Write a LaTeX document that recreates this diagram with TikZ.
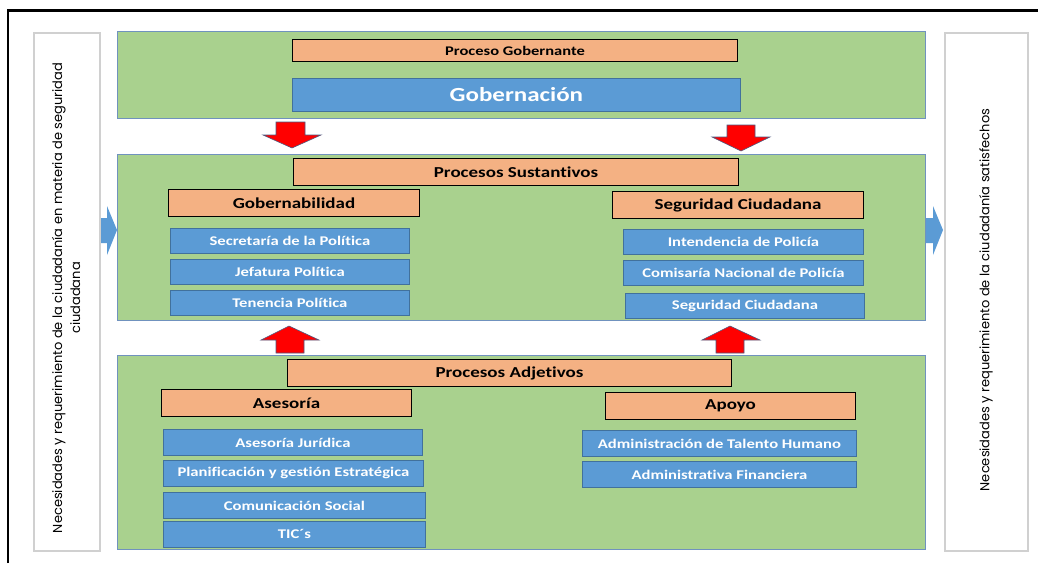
\documentclass[tikz,border=0pt]{standalone}
\usepackage{fontspec}
\setmainfont{Carlito}[FakeStretch=1.25, Ligatures=NoCommon]
\newfontfamily\sidefont{Poppins}
\definecolor{grpgreen}{HTML}{A9D18E}
\definecolor{grpline}{HTML}{7092BE}
\definecolor{hdrorange}{HTML}{F4B183}
\definecolor{itemblue}{HTML}{5B9BD5}
\definecolor{itemline}{HTML}{41719C}
\definecolor{sidegray}{HTML}{D0D0D0}
\definecolor{arrowline}{HTML}{4A5A80}
\begin{document}
\begin{tikzpicture}[x=1pt,y=-1pt,
  grp/.style={draw=grpline, fill=grpgreen, line width=0.8pt, anchor=north west, inner sep=0pt},
  hdr/.style={draw=black, fill=hdrorange, line width=1pt, anchor=north west, inner sep=0pt,
    font=\bfseries\fontsize{15.2}{17}\selectfont, text=black},
  item/.style={draw=itemline, fill=itemblue, line width=0.8pt, anchor=north west, inner sep=0pt,
    font=\bfseries\fontsize{13.3}{15}\selectfont, text=white},
  side/.style={draw=sidegray, line width=1.8pt, fill=white, anchor=north west, inner sep=0pt},
  sidetext/.style={rotate=90, align=center, font=\sidefont\fontsize{13}{18}\selectfont, text=black},
  redarr/.style={fill=red, draw=arrowline, line width=0.6pt, line join=miter},
  bluearr/.style={fill=itemblue, draw=none}
]
\useasboundingbox (0,0) rectangle (1038,563);
\fill[white] (0,0) rectangle (1038,563);
% outer frame (top and left)
\draw[line width=2.5pt] (8,563) -- (8,10.5) -- (1038,10.5);

% side boxes
\node[side, minimum width=66pt, minimum height=518pt] (leftside) at (33,32) {};
\node[side, minimum width=83pt, minimum height=518pt] (rightside) at (944,32) {};
\node[sidetext] (lefttext) at (66,298) {Necesidades y requerimiento de la ciudadanía en materia de seguridad\\ciudadana};
\node[sidetext] (righttext) at (986,300) {Necesidades y requerimiento de la ciudadanía satisfechos};

% group panels
\node[grp, minimum width=808pt, minimum height=87pt] (gtop) at (117,31) {};
\node[grp, minimum width=808pt, minimum height=166pt] (gmid) at (117,154) {};
\node[grp, minimum width=808pt, minimum height=194pt] (gbot) at (117,355) {};

% top panel
\node[hdr, minimum width=445pt, minimum height=22pt, font=\bfseries\fontsize{13.2}{15}\selectfont] (pgob) at (292,39) {Proceso Gobernante};
\node[item, minimum width=448pt, minimum height=33pt, font=\bfseries\fontsize{20}{22}\selectfont] (gobern) at (292,78) {Gobernación};

% middle panel
\node[hdr, minimum width=445pt, minimum height=27pt] (psust) at (293,158) {Procesos Sustantivos};
\node[hdr, minimum width=251pt, minimum height=27pt] (gobnab) at (168,189) {Gobernabilidad};
\node[hdr, minimum width=251pt, minimum height=27pt] (segciu) at (612,191) {Seguridad Ciudadana};
\node[item, minimum width=239pt, minimum height=25pt] (secret) at (170,228) {Secretaría de la Política};
\node[item, minimum width=239pt, minimum height=25pt] (jefat) at (170,259) {Jefatura Política};
\node[item, minimum width=239pt, minimum height=25pt] (tenen) at (170,290) {Tenencia Política};
\node[item, minimum width=240pt, minimum height=25pt] (intend) at (623,229) {Intendencia de Policía};
\node[item, minimum width=240pt, minimum height=25pt] (comis) at (623,260) {Comisaría Nacional de Policía};
\node[item, minimum width=239pt, minimum height=25pt] (segciub) at (625,293) {Seguridad Ciudadana};

% bottom panel
\node[hdr, minimum width=444pt, minimum height=27pt] (padj) at (287,359) {Procesos Adjetivos};
\node[hdr, minimum width=250pt, minimum height=27pt] (aseso) at (161,389) {Asesoría};
\node[hdr, minimum width=250pt, minimum height=27pt] (apoyo) at (605,392) {Apoyo};
\node[item, minimum width=259pt, minimum height=26pt] (asjur) at (163,429) {Asesoría Jurídica};
\node[item, minimum width=260pt, minimum height=26pt] (plan) at (163,460) {Planificación y gestión Estratégica};
\node[item, minimum width=262pt, minimum height=26pt] (comun) at (163,492) {Comunicación Social};
\node[item, minimum width=262pt, minimum height=26pt] (tics) at (163,521) {TIC´s};
\node[item, minimum width=274pt, minimum height=26pt] (talento) at (582,430) {Administración de Talento Humano};
\node[item, minimum width=274pt, minimum height=26pt] (financ) at (582,461) {Administrativa Financiera};

% red block arrows
\draw[redarr] (276,122) -- (305,122) -- (305,135) -- (321,135) -- (292,148) -- (263,135) -- (276,135) -- cycle;
\draw[redarr] (727,125) -- (755,125) -- (755,137) -- (770,137) -- (741,151) -- (712,137) -- (727,137) -- cycle;
\draw[redarr] (276,353) -- (304,353) -- (304,340) -- (319,340) -- (289,326) -- (261,340) -- (276,340) -- cycle;
\draw[redarr] (716,353) -- (744,353) -- (744,340) -- (760,340) -- (730,326) -- (702,340) -- (716,340) -- cycle;

% blue block arrows
\fill[bluearr] (101,218) -- (107,218) -- (107,206) -- (117,230) -- (107,255) -- (107,243) -- (101,243) -- cycle;
\fill[bluearr] (926,218) -- (933,218) -- (933,206) -- (943,230) -- (933,255) -- (933,243) -- (926,243) -- cycle;
\end{tikzpicture}
\end{document}
